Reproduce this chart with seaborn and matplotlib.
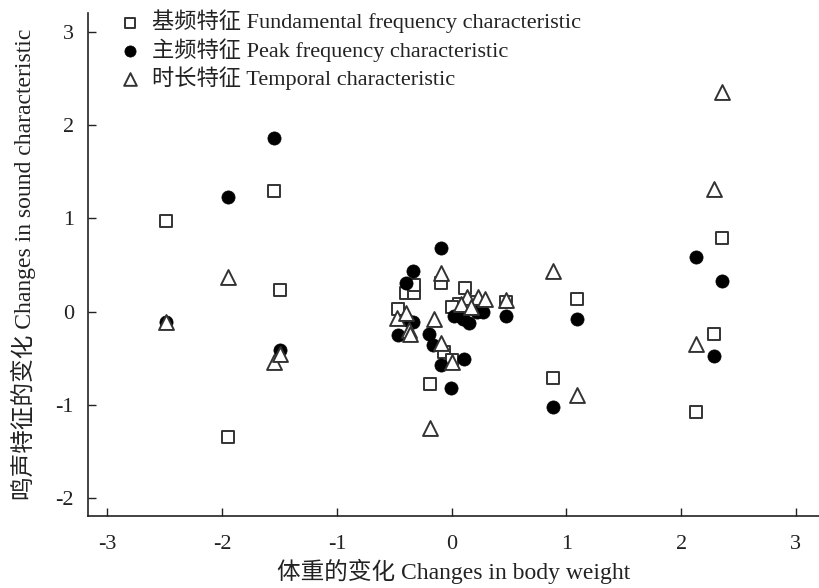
import matplotlib
matplotlib.use("Agg")
import matplotlib.pyplot as plt
import seaborn as sns
import pandas as pd

# Fundamental frequency characteristic (open squares)
fund_x = [-2.49, -1.95, -1.55, -1.50, -0.47, -0.40, -0.33, -0.33, -0.09, 0.12,
          0.06, 0.00, 0.13, 0.17, 0.47, -0.07, 0.00, -0.19, 0.88, 1.09,
          2.13, 2.29, 2.36]
fund_y = [0.97, -1.34, 1.29, 0.23, 0.03, 0.20, 0.20, 0.29, 0.31, 0.25,
          0.08, 0.05, 0.05, 0.10, 0.10, -0.43, -0.52, -0.78, -0.71, 0.14,
          -1.08, -0.24, 0.79]

# Peak frequency characteristic (filled circles)
peak_x = [-2.49, -1.95, -1.55, -1.50, -0.09, -0.34, -0.40, -0.47, -0.39, -0.34,
          -0.20, -0.16, -0.09, 0.11, -0.01, 0.02, 0.10, 0.15, 0.22, 0.27,
          0.47, 0.88, 1.09, 2.13, 2.29, 2.36]
peak_y = [-0.11, 1.23, 1.86, -0.41, 0.68, 0.43, 0.31, -0.25, -0.09, -0.11,
          -0.24, -0.36, -0.57, -0.51, -0.82, -0.05, -0.08, -0.12, 0.00, 0.00,
          -0.05, -1.02, -0.08, 0.59, -0.48, 0.33]

# Temporal characteristic (open triangles)
temp_x = [-2.49, -1.95, -1.55, -1.50, -0.09, -0.48, -0.15, -0.37, -0.36, -0.09,
          0.00, -0.19, 0.13, 0.23, 0.29, 0.47, -0.40, 0.08, 0.17, 0.88,
          1.09, 2.13, 2.29, 2.36]
temp_y = [-0.11, 0.37, -0.54, -0.45, 0.41, -0.07, -0.08, -0.20, -0.24, -0.34,
          -0.54, -1.25, 0.16, 0.16, 0.13, 0.12, -0.01, 0.08, 0.05, 0.43,
          -0.89, -0.35, 1.31, 2.35]

labels = ["基频特征 Fundamental frequency characteristic",
          "主频特征 Peak frequency characteristic",
          "时长特征 Temporal characteristic"]
xticks = [-3, -2, -1, 0, 1, 2, 3]
yticks = [-2, -1, 0, 1, 2, 3]
xlabel = "体重的变化 Changes in body weight"
ylabel = "鸣声特征的变化 Changes in sound characteristic"

sns.set_style("ticks")
plt.rcParams['font.family'] = ['Liberation Serif', 'Noto Sans CJK SC']
plt.rcParams['axes.unicode_minus'] = False

fig = plt.figure(figsize=(8.2, 5.88), dpi=100)
ax = fig.add_axes([0.1073, 0.1224, 0.8927, 0.8556])

df_f = pd.DataFrame({"x": fund_x, "y": fund_y})
df_p = pd.DataFrame({"x": peak_x, "y": peak_y})
df_t = pd.DataFrame({"x": temp_x, "y": temp_y})

edge = "#333333"
sns.scatterplot(data=df_f, x="x", y="y", ax=ax, marker="s", s=80,
                facecolor="white", edgecolor=edge, linewidth=1.4, label=labels[0], zorder=3)
sns.scatterplot(data=df_p, x="x", y="y", ax=ax, marker="o", s=90,
                color="black", edgecolor="black", linewidth=0.5, label=labels[1], zorder=4)
sns.scatterplot(data=df_t, x="x", y="y", ax=ax, marker="^", s=115,
                facecolor="white", edgecolor=edge, linewidth=1.4, label=labels[2], zorder=5)

ax.set_xlim(-3.17, 3.21)
ax.set_ylim(-2.19, 3.2)
ax.set_xticks(xticks)
ax.set_yticks(yticks)
ax.set_xticklabels([str(v) for v in xticks])
ax.set_yticklabels([str(v) for v in yticks])
ax.tick_params(direction="in", length=6, width=1, labelsize=16, colors="#222222")
ax.tick_params(axis="x", pad=14)
ax.tick_params(axis="y", pad=10)
ax.set_xlabel(xlabel, fontsize=17, color="#222222", labelpad=3)
ax.set_ylabel(ylabel, fontsize=17, color="#222222", labelpad=14)
for side in ["top", "right"]:
    ax.spines[side].set_visible(False)
for side in ["left", "bottom"]:
    ax.spines[side].set_color("#222222")
    ax.spines[side].set_linewidth(1.2)

leg = ax.legend(loc="upper left", bbox_to_anchor=(0.015, 1.024), frameon=False,
                fontsize=16, handletextpad=0.0, labelspacing=0.2, borderaxespad=0,
                markerscale=0.85)
for t in leg.get_texts():
    t.set_color("#222222")

fig.savefig("out.png", dpi=100)
